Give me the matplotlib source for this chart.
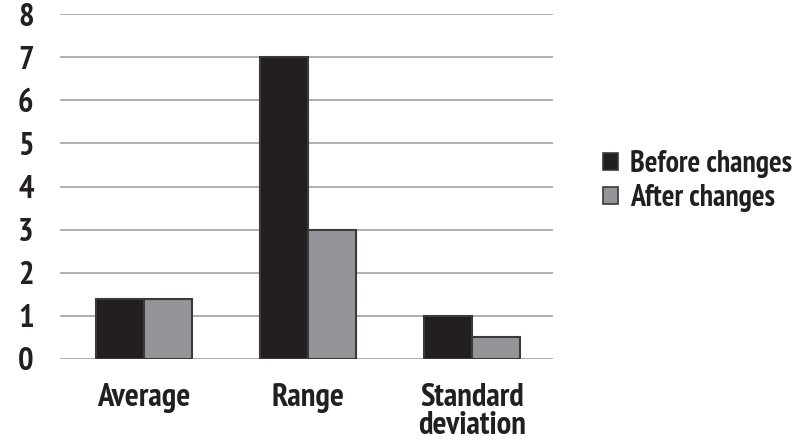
import matplotlib
matplotlib.use("Agg")
import matplotlib.pyplot as plt
import numpy as np
from matplotlib.patches import Patch

categories = ["Average", "Range", "Standard\ndeviation"]
before_changes = [1.4, 7.0, 1.0]
after_changes = [1.4, 3.0, 0.5]
series_labels = ["Before changes", "After changes"]
y_ticks = [0, 1, 2, 3, 4, 5, 6, 7, 8]

TEXT = "#231f20"
DARK = "#231f20"
GREY = "#939598"
GRID = "#a7a9ac"
FONT = ["PT Sans Narrow", "DejaVu Sans"]
FSIZE = 23.5
LEG_SIZE = 21.5

fig = plt.figure(figsize=(8.02, 4.47), dpi=100)
W, H = 802, 447
ax = fig.add_axes([60 / W, 1 - 359 / H, (553 - 60) / W, (359 - 14) / H])

x = np.arange(len(categories))
width = 0.293
ax.bar(x - width / 2, before_changes, width, color=DARK, edgecolor="#3a3a3a",
       linewidth=1.5, zorder=3, label=series_labels[0])
ax.bar(x + width / 2, after_changes, width, color=GREY, edgecolor="#3a3a3a",
       linewidth=1.5, zorder=3, label=series_labels[1])

ax.set_xlim(-0.512, 2.494)
ax.set_ylim(0, 8)
ax.set_yticks(y_ticks)
ax.yaxis.grid(True, color=GRID, linewidth=1.3, zorder=0)
ax.set_axisbelow(True)
for s in ax.spines.values():
    s.set_visible(False)
ax.tick_params(axis="both", length=0)
ax.tick_params(axis="y", pad=19)
ax.tick_params(axis="x", pad=17)
ax.set_xticks(x)
ax.set_xticklabels(categories, va="top", linespacing=0.95)
for lab in ax.get_yticklabels() + ax.get_xticklabels():
    lab.set_family(FONT)
    lab.set_weight("bold")
    lab.set_color(TEXT)
    lab.set_fontsize(FSIZE)

handles = [Patch(facecolor=DARK, edgecolor="#3a3a3a", linewidth=1.2),
           Patch(facecolor=GREY, edgecolor="#3a3a3a", linewidth=1.2)]
leg = fig.legend(handles, series_labels, loc="center left",
                 bbox_to_anchor=(588 / W, 1 - 181 / H), frameon=False,
                 handlelength=0.5, handleheight=0.5, handletextpad=0.4,
                 labelspacing=0.2, borderpad=0,
                 prop={"family": FONT, "weight": "bold", "size": LEG_SIZE})
for t in leg.get_texts():
    t.set_color(TEXT)

fig.savefig("out.png", dpi=100)
